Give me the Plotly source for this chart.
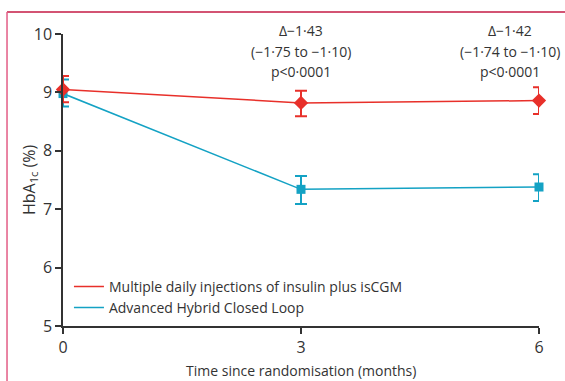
import plotly.graph_objects as go

months = [0, 3, 6]
mdi_mean = [9.05, 8.82, 8.86]
mdi_upper = [9.28, 9.03, 9.09]
mdi_lower = [8.83, 8.59, 8.63]
ahcl_mean = [8.98, 7.34, 7.38]
ahcl_upper = [9.22, 7.57, 7.60]
ahcl_lower = [8.76, 7.09, 7.14]
x_ticks = [0, 3, 6]
y_ticks = [5, 6, 7, 8, 9, 10]
diff_3 = ["Δ−1·43", "(−1·75 to −1·10)", "p&lt;0·0001"]
diff_6 = ["Δ−1·42", "(−1·74 to −1·10)", "p&lt;0·0001"]

RED = "#e8302a"
BLUE = "#14a2c4"
FONT = "Open Sans"
TXT = "#333333"

def err(mean, up, lo, color):
    return dict(type="data", symmetric=False,
                array=[u - m for u, m in zip(up, mean)],
                arrayminus=[m - l for m, l in zip(mean, lo)],
                color=color, thickness=2, width=6)

fig = go.Figure()
fig.add_trace(go.Scatter(x=months, y=ahcl_mean, mode="lines+markers",
                         name="Advanced Hybrid Closed Loop",
                         line=dict(color=BLUE, width=1.5),
                         marker=dict(symbol="square", size=9, color=BLUE),
                         error_y=err(ahcl_mean, ahcl_upper, ahcl_lower, BLUE),
                         cliponaxis=False, showlegend=False))
fig.add_trace(go.Scatter(x=months, y=mdi_mean, mode="lines+markers",
                         name="Multiple daily injections of insulin plus isCGM",
                         line=dict(color=RED, width=1.5),
                         marker=dict(symbol="diamond", size=11, color=RED),
                         error_y=err(mdi_mean, mdi_upper, mdi_lower, RED),
                         cliponaxis=False, showlegend=False))
fig.add_trace(go.Scatter(x=[None], y=[None], mode="lines",
                         name="Multiple daily injections of insulin plus isCGM",
                         line=dict(color=RED, width=1.5)))
fig.add_trace(go.Scatter(x=[None], y=[None], mode="lines",
                         name="Advanced Hybrid Closed Loop",
                         line=dict(color=BLUE, width=1.5)))

line_y = [1.0103, 0.9384, 0.8699]
for xv, lines in ((3, diff_3), (5.635, diff_6)):
    for yv, t in zip(line_y, lines):
        fig.add_annotation(x=xv, y=yv, xref="x", yref="paper", yanchor="middle",
                           xanchor="center", text=t, showarrow=False,
                           font=dict(family=FONT, size=14, color=TXT))

fig.add_annotation(x=3, y=-0.1507, xref="x", yref="paper", yanchor="middle",
                   xanchor="center", text="Time since randomisation (months)",
                   showarrow=False, font=dict(family=FONT, size=14, color=TXT))
fig.add_annotation(x=-0.0714, y=0.5, xref="paper", yref="paper", yanchor="middle",
                   xanchor="center", text="HbA<sub>1c</sub> (%)", textangle=-90,
                   showarrow=False, font=dict(family=FONT, size=16, color=TXT))

axis_common = dict(showline=True, linecolor=TXT, linewidth=1.5, ticks="outside",
                   ticklen=6, tickwidth=1.5, tickcolor=TXT, showgrid=False,
                   zeroline=False, automargin=False,
                   tickfont=dict(family=FONT, size=16, color=TXT))
fig.update_xaxes(range=[0, 6], tickvals=x_ticks, **axis_common)
fig.update_yaxes(range=[5, 10], tickvals=y_ticks, **axis_common)

fig.add_shape(type="line", xref="paper", yref="paper", x0=-0.1176, x1=1.06,
              y0=1.0753, y1=1.0753, line=dict(color="#c41a44", width=1.5))
fig.add_shape(type="line", xref="paper", yref="paper", x0=-0.1176, x1=-0.1176,
              y0=1.0753, y1=-0.2, line=dict(color="#e35d86", width=1.5))

fig.update_layout(width=565, height=381, margin=dict(l=63, r=26, t=34, b=55),
                  plot_bgcolor="white", paper_bgcolor="white",
                  font=dict(family=FONT, size=14, color=TXT),
                  legend=dict(x=0.0125, y=0.189, xanchor="left", yanchor="top",
                              bgcolor="rgba(0,0,0,0)", tracegroupgap=0,
                              font=dict(family=FONT, size=14, color=TXT)))
fig.write_html("out.html", config={"displayModeBar": False},
               post_script="document.body.style.margin='0';document.body.style.overflow='hidden';")
